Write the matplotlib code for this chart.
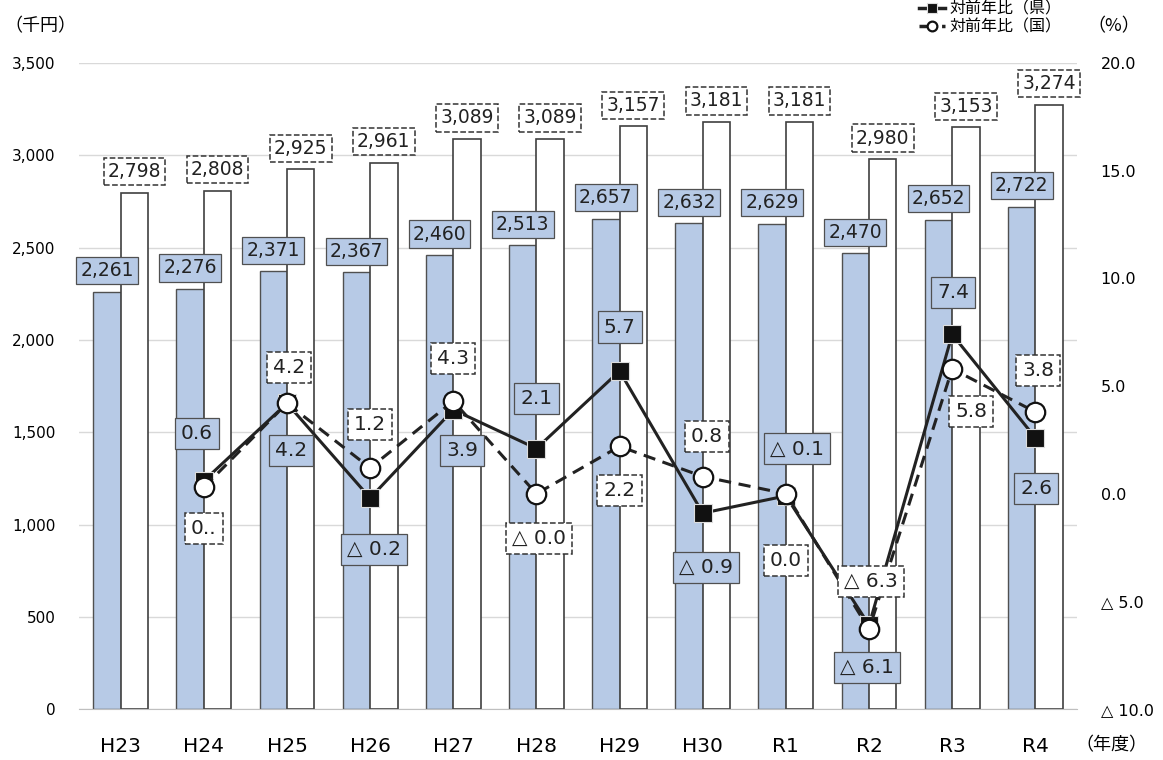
import matplotlib.pyplot as plt
import numpy as np

plt.rcParams['font.family'] = ['DejaVu Sans', 'Noto Sans CJK JP']

# Fiscal years
years = ['H23', 'H24', 'H25', 'H26', 'H27', 'H28', 'H29', 'H30', 'R1', 'R2', 'R3', 'R4']

# Per-capita income (thousand yen): prefecture vs nation
income_pref = [2261, 2276, 2371, 2367, 2460, 2513, 2657, 2632, 2629, 2470, 2652, 2722]
income_nat = [2798, 2808, 2925, 2961, 3089, 3089, 3157, 3181, 3181, 2980, 3153, 3274]

# Year-on-year change (%), H23 has no value
yoy_pref = [np.nan, 0.6, 4.2, -0.2, 3.9, 2.1, 5.7, -0.9, -0.1, -6.1, 7.4, 2.6]
yoy_nat = [np.nan, 0.3, 4.2, 1.2, 4.3, 0.0, 2.2, 0.8, 0.0, -6.3, 5.8, 3.8]

# label offsets (pixels) for the change values
off_pref = [None, (-7, 47), (4, -47), (4, -51), (9, -41), (0, 50), (0, 44),
            (3, -54), (11, 47), (-2, -42), (1, 42), (1, -51)]
off_nat = [None, (0, -41), (2, 36), (0, 43), (0, 43), (3, -45), (0, -44),
           (4, 40), (0, -67), (2, 48), (19, -43), (3, 41)]

BLUE = '#b7cae6'
JP = ['Noto Sans CJK JP']


def pct(v):
    if v < 0 or (v == 0 and np.signbit(v)):
        return f'△ {abs(v):.1f}'
    return f'{v:.1f}'


fig = plt.figure(figsize=(11.63, 7.6), dpi=100)
ax = fig.add_axes([0.068, 0.067, 0.858, 0.850])
ax2 = ax.twinx()

x = np.arange(len(years))
w = 0.33
ax.bar(x - w / 2, income_pref, w, color=BLUE, edgecolor='#505050', linewidth=1.0, zorder=2)
ax.bar(x + w / 2, income_nat, w, color='white', edgecolor='#404040', linewidth=1.2, zorder=2)

for xi, v in zip(x, income_pref):
    ax.annotate(f'{v:,}', (xi - w / 2, v), xytext=(0, 21), textcoords='offset pixels',
                ha='center', va='center', fontsize=13.5, color='#222222', zorder=5,
                bbox=dict(boxstyle='square,pad=0.22', fc=BLUE, ec='#505050', lw=0.9))
for xi, v in zip(x, income_nat):
    ax.annotate(f'{v:,}', (xi + w / 2, v), xytext=(0, 21), textcoords='offset pixels',
                ha='center', va='center', fontsize=13.5, color='#222222', zorder=5,
                bbox=dict(boxstyle='square,pad=0.22', fc='white', ec='#333333', lw=1.1, ls='--'))

ax.set_ylim(0, 3500)
ax.set_yticks(range(0, 3501, 500))
ax.set_yticklabels([f'{t:,}' for t in range(0, 3501, 500)], fontsize=11)
ax.set_xlim(-0.5, len(years) - 0.5)
ax.set_xticks(x)
ax.set_xticklabels(years, fontsize=14.5)
ax.tick_params(axis='both', length=0)
ax.tick_params(axis='y', pad=17)
ax.tick_params(axis='x', pad=20)
ax.grid(axis='y', color='#d9d9d9', linewidth=1.0, zorder=0)
ax.set_axisbelow(True)
for s in ['top', 'left', 'right']:
    ax.spines[s].set_visible(False)
ax.spines['bottom'].set_color('#bfbfbf')

# change lines on the secondary axis
ax2.plot(x, yoy_pref, color='#222222', lw=2.2, marker='s', markersize=13,
         mfc='#111111', mec='#dddddd', mew=0.8, zorder=3, label='対前年比（県）')
ax2.plot(x, yoy_nat, color='#222222', lw=2.2, ls=(0, (4, 2.5)), marker='o', markersize=14,
         mfc='white', mec='#111111', mew=1.6, zorder=4, label='対前年比（国）')

for xi, v, off in zip(x, yoy_pref, off_pref):
    if off is None:
        continue
    ax2.annotate(pct(v), (xi, v), xytext=off, textcoords='offset pixels',
                 ha='center', va='center', fontsize=14.5, color='#222222', zorder=6,
                 bbox=dict(boxstyle='square,pad=0.3', fc=BLUE, ec='#505050', lw=0.9))
for xi, v, off in zip(x, yoy_nat, off_nat):
    if off is None:
        continue
    txt = '0..' if xi == 1 else pct(-0.0 if (xi == 5) else v)
    ax2.annotate(txt, (xi, v), xytext=off, textcoords='offset pixels',
                 ha='center', va='center', fontsize=14.5, color='#222222', zorder=6,
                 bbox=dict(boxstyle='square,pad=0.3', fc='white', ec='#333333', lw=1.1, ls='--'))

ax2.set_ylim(-10, 20)
ax2.set_yticks(range(-10, 21, 5))
ax2.set_yticklabels([pct(float(t)) for t in range(-10, 21, 5)], fontsize=11.5)
ax2.tick_params(axis='y', length=0, pad=17)
for s in ['top', 'left', 'right', 'bottom']:
    ax2.spines[s].set_visible(False)

leg = fig.legend(loc='upper left', bbox_to_anchor=(0.785, 1.008), frameon=False,
                 handlelength=1.6, handletextpad=0.3, labelspacing=0.05,
                 borderaxespad=0.0, prop={'family': JP, 'size': 11.5})
for h in leg.legend_handles:
    h.set_markersize(7)
    h.set_linewidth(2.5)

fig.text(0.004, 0.965, '（千円）', fontsize=13, family=JP, va='center')
fig.text(0.935, 0.965, '（%）', fontsize=13, family=JP, va='center')
fig.text(0.925, 0.019, '（年度）', fontsize=13, family=JP, va='center')

plt.savefig('out.png', dpi=100)
